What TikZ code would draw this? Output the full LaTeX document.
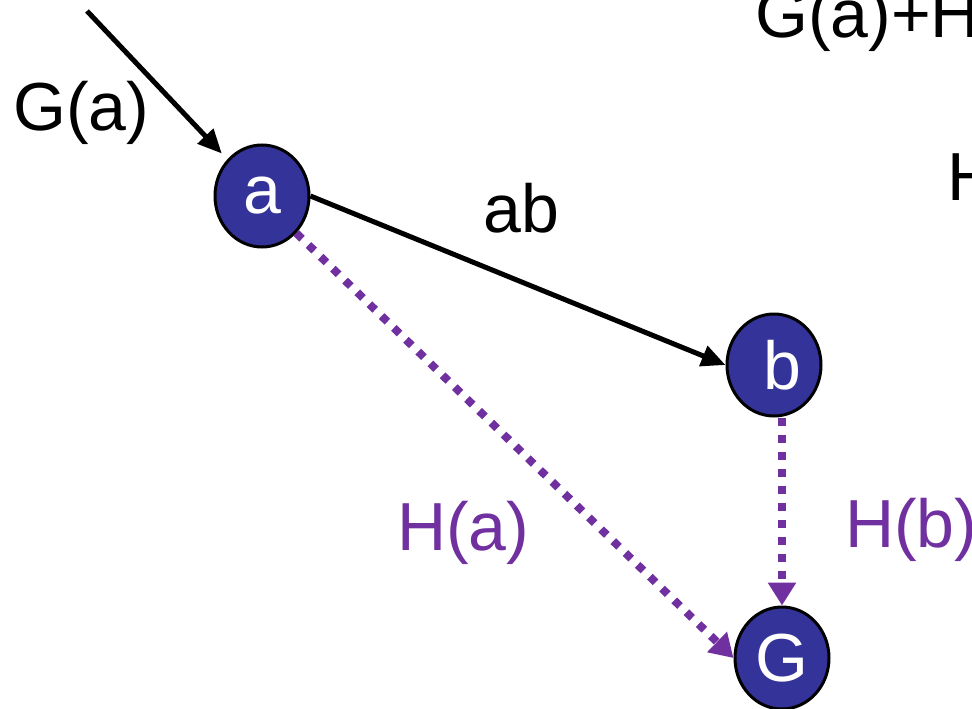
\documentclass[tikz,border=0pt]{standalone}
\usepackage{fontspec}
\setmainfont{Liberation Sans}
\usetikzlibrary{arrows.meta,shapes.geometric}
\definecolor{nodeblue}{HTML}{333399}
\definecolor{hpurple}{HTML}{7030A0}
\newcommand\bigfont{\fontsize{68}{80}\selectfont}
\begin{document}
\begin{tikzpicture}[x=1pt,y=-1pt,
  vertex/.style={ellipse,draw=black,line width=3pt,fill=nodeblue,text=white,
    minimum width=94pt,minimum height=102pt,inner sep=0pt,font=\bigfont},
  lbl/.style={anchor=base west,inner sep=0pt,font=\bigfont},
  hlbl/.style={lbl,text=hpurple},
  blackarrow/.style={draw=black,line width=5pt,-{Triangle[length=24pt,width=21pt]}},
  purplearrow/.style={draw=hpurple,line width=8pt,dash pattern=on 8pt off 9pt,
    -{Triangle[length=23pt,width=27pt]}}]
\useasboundingbox (0,0) rectangle (972,709);
\clip (0,0) rectangle (972,709);
\fill[white] (0,0) rectangle (972,709);

\node[vertex] (a) at (262,196) {a};
\node[vertex] (b) at (774,365) {\hspace*{16pt}b};
\node[vertex] (G) at (782,658) {G};

\coordinate (s) at (87,11);
\draw[blackarrow] (s) -- (a) [shorten >=8pt];
\draw[blackarrow] (a.east) -- (b.west);
\draw[purplearrow] (a.south east) -- (G.west);
\draw[purplearrow] (G.north |- b.south) -- (G.north);

\node[lbl] (ga) at (13,130) {G(a)};
\node[lbl] (ab) at (483,232) {ab};
\node[hlbl] (ha) at (397,550) {H(a)};
\node[hlbl] (hb) at (845,547) {H(b)};
\node[lbl] (top) at (755,38) {G(a)+H};
\node[lbl] (h2) at (947,200) {H};
\end{tikzpicture}
\end{document}
